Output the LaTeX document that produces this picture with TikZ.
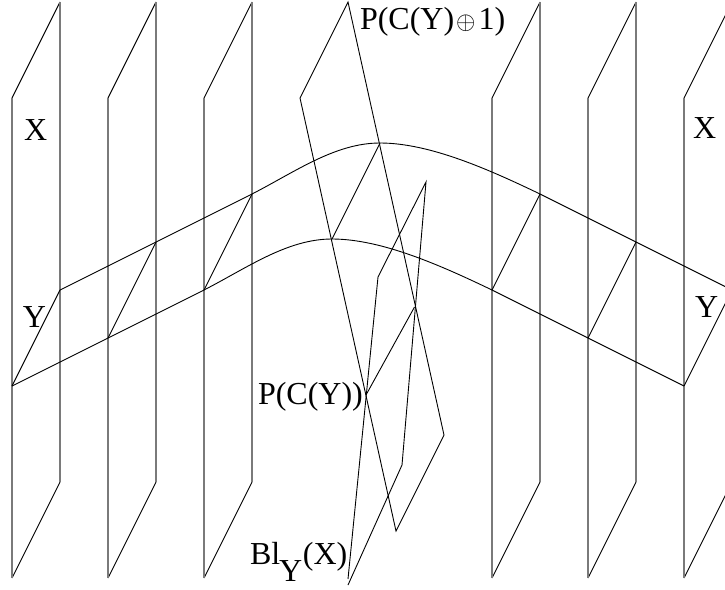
\documentclass[tikz,border=0pt]{standalone}
\usepackage{fontspec}
\setmainfont{Liberation Serif}
\tikzset{
  thin line/.style={draw=black,line width=0.9pt,line join=miter},
  vert line/.style={draw=black!52,line width=1.2pt},
  lab/.style={anchor=base west,inner sep=0pt,outer sep=0pt,font=\fontsize{32}{32}\selectfont},
  plane/.pic={
    \coordinate (-a) at (0,98);
    \coordinate (-b) at (48,2);
    \coordinate (-c) at (48,482);
    \coordinate (-d) at (0,578);
    \draw[thin line] (-a) -- (-b);
    \draw[thin line] (-c) -- (-d);
    \draw[vert line] (-a) -- (-d);
    \draw[vert line] (-b) -- (-c);
  }
}
\begin{document}
\begin{tikzpicture}[x=1pt,y=-1pt]
\useasboundingbox (0,0) rectangle (725,589);
\clip (0,0) rectangle (725,589);
% vertical planes
\foreach \px in {12,108,204,492,588,684} {
  \pic at (\px,0) {plane};
}
% band edges
\coordinate (u0) at (60,290);
\coordinate (u1) at (156,242);
\coordinate (u2) at (252,194);
\coordinate (u3) at (380,143);
\coordinate (u4) at (540,194);
\coordinate (u5) at (636,242);
\coordinate (u6) at (732,290);
\coordinate (l0) at (12,386);
\coordinate (l1) at (108,338);
\coordinate (l2) at (204,290);
\coordinate (l3) at (332,239);
\coordinate (l4) at (492,290);
\coordinate (l5) at (588,338);
\coordinate (l6) at (684,386);
\draw[thin line] (u0) -- (u2) .. controls (295,172) and (335,143) .. (u3)
   .. controls (430,143) and (490,170) .. (u4) -- (u6);
\draw[thin line] (l0) -- (l2) .. controls (247,268) and (287,239) .. (l3)
   .. controls (382,239) and (442,266) .. (l4) -- (l6);
% fibres across the band
\foreach \i in {0,1,2,3,4,5,6} { \draw[thin line] (l\i) -- (u\i); }
\coordinate (m0) at (366,395);
\coordinate (m1) at (414.5,307);
\draw[thin line] (m0) -- (m1);
% tilted plane P(C(Y)+1)
\draw[thin line] (300,98) -- (348,2) -- (444,435) -- (396,531) -- cycle;
% blow-up plane
\draw[thin line] (378,277) -- (426,182) -- (402,465) -- (348,585);
\draw[thin line] (378,277) -- (348,579);
% labels
\node[lab] (x1) at (24,140.5) {X};
\node[lab] (x2) at (693,138) {X};
\node[lab] (y1) at (23,327) {Y};
\node[lab] (y2) at (695,317) {Y};
\node[lab] (p1) at (360,29) {P(C(Y)\kern 2pt$\oplus$\kern 3pt1)};
\node[lab] (p2) at (258,404) {P(C(Y))};
\node[lab] (bl) at (250,564) {Bl\kern -1pt\raisebox{-17pt}{Y}\kern 0.5pt(X)};
\end{tikzpicture}
\end{document}
